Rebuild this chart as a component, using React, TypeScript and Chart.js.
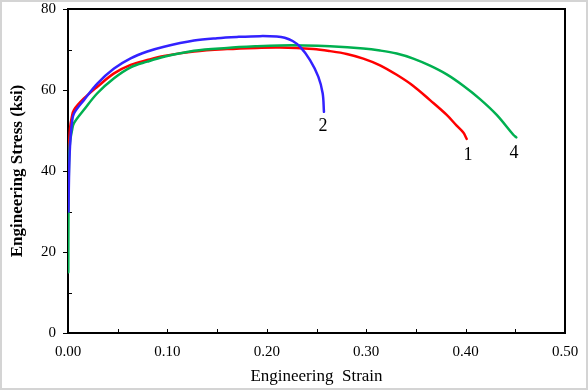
import { useEffect, useRef } from "react";
import { Chart, registerables } from "chart.js";

Chart.register(...registerables);

// Specimen 1 (red)
const strain1 = [0.0005, 0.001, 0.002, 0.004, 0.006, 0.016, 0.0295, 0.0463, 0.063, 0.0798, 0.0966, 0.1268, 0.16, 0.19, 0.213, 0.2468, 0.2636, 0.2804, 0.2971, 0.3139, 0.3307, 0.3474, 0.3642, 0.381, 0.391, 0.3977, 0.4011];
const stress1 = [40, 46, 50.5, 53.5, 55.1, 57.9, 60.8, 64.1, 66.2, 67.4, 68.4, 69.5, 70.1, 70.4, 70.5, 70.1, 69.6, 68.9, 67.75, 66.1, 63.75, 61.0, 57.5, 53.85, 51.2, 49.5, 47.9];

// Specimen 2 (blue)
const strain2 = [0.0005, 0.001, 0.002, 0.004, 0.006, 0.016, 0.0295, 0.0463, 0.063, 0.0798, 0.0966, 0.1268, 0.15, 0.17, 0.193, 0.21, 0.218, 0.226, 0.2334, 0.2435, 0.2518, 0.2562, 0.2575];
const stress2 = [30, 38.5, 46, 52, 54.2, 57.5, 61.6, 65.3, 67.8, 69.5, 70.7, 72.2, 72.8, 73.1, 73.3, 73.2, 72.9, 72.1, 70.7, 67.4, 63.3, 59.2, 54.6];

// Specimen 4 (green)
const strain4 = [0.0003, 0.0005, 0.001, 0.002, 0.004, 0.006, 0.016, 0.0295, 0.0463, 0.063, 0.0798, 0.0966, 0.1268, 0.16, 0.19, 0.213, 0.2376, 0.2636, 0.2971, 0.3139, 0.3307, 0.3474, 0.3642, 0.381, 0.3977, 0.4145, 0.4313, 0.448, 0.451];
const stress4 = [15, 30, 42, 47, 50, 51.8, 55.1, 59.2, 62.9, 65.6, 67.0, 68.2, 69.7, 70.4, 70.8, 71.0, 71.0, 70.8, 70.25, 69.75, 69.0, 67.75, 66.0, 63.85, 61.05, 57.75, 53.85, 48.95, 48.3];

// Curve labels
const labelTexts = ["1", "2", "4"];
const labelStrain = [0.4024, 0.2565, 0.4487];
const labelStress = [43.9, 51.1, 44.4];

const xTickValues = [0, 0.1, 0.2, 0.3, 0.4, 0.5];
const yTickValues = [0, 20, 40, 60, 80];
const xMinorValues = [0.05, 0.15, 0.25, 0.35, 0.45];
const yMinorValues = [10, 30, 50, 70];

const toPoints = (xs: number[], ys: number[]) => xs.map((x, i) => ({ x, y: ys[i] }));

export default function App() {
  const ref = useRef<HTMLCanvasElement>(null);

  useEffect(() => {
    if (!ref.current) return;
    const serif = "'Liberation Serif', 'Times New Roman', serif";

    const decor = {
      id: "decor",
      beforeDraw(chart: any) {
        const ctx = chart.ctx;
        ctx.save();
        ctx.fillStyle = "#ffffff";
        ctx.fillRect(0, 0, chart.width, chart.height);
        ctx.strokeStyle = "#d4d4d4";
        ctx.lineWidth = 2;
        ctx.strokeRect(1, 1, chart.width - 2, chart.height - 2);
        ctx.restore();
      },
      beforeDatasetsDraw(chart: any) {
        const ctx = chart.ctx;
        const { left, right, top, bottom } = chart.chartArea;
        const xs = chart.scales.x;
        const ys = chart.scales.y;
        ctx.save();
        ctx.strokeStyle = "#000";
        ctx.lineWidth = 2;
        ctx.strokeRect(left, top, right - left, bottom - top);
        ctx.lineWidth = 1;
        ctx.beginPath();
        for (const v of yTickValues) {
          const py = Math.round(ys.getPixelForValue(v)) + 0.5;
          ctx.moveTo(left - 5, py);
          ctx.lineTo(left, py);
        }
        for (const v of yMinorValues) {
          const py = Math.round(ys.getPixelForValue(v)) + 0.5;
          ctx.moveTo(left, py);
          ctx.lineTo(left + 4, py);
        }
        for (const v of [...xTickValues, ...xMinorValues]) {
          const px = Math.round(xs.getPixelForValue(v)) + 0.5;
          ctx.moveTo(px, bottom);
          ctx.lineTo(px, bottom - 4);
        }
        ctx.stroke();
        ctx.restore();
      },
      afterDraw(chart: any) {
        const ctx = chart.ctx;
        const xs = chart.scales.x;
        const ys = chart.scales.y;
        ctx.save();
        ctx.fillStyle = "#000";
        ctx.font = `18px ${serif}`;
        ctx.textAlign = "center";
        ctx.textBaseline = "middle";
        labelTexts.forEach((t, i) => {
          ctx.fillText(t, xs.getPixelForValue(labelStrain[i]), ys.getPixelForValue(labelStress[i]));
        });
        ctx.restore();
      },
    };

    const common = { showLine: true, pointRadius: 0, borderWidth: 2.5, fill: false, tension: 0.35, borderJoinStyle: "round" as const, borderCapStyle: "round" as const };

    const chart = new Chart(ref.current, {
      type: "scatter",
      data: {
        datasets: [
          { ...common, label: "2", data: toPoints(strain2, stress2), borderColor: "#3322ff" },
          { ...common, label: "4", data: toPoints(strain4, stress4), borderColor: "#00b050" },
          { ...common, label: "1", data: toPoints(strain1, stress1), borderColor: "#ff0000" },
        ],
      },
      options: {
        animation: false,
        responsive: false,
        devicePixelRatio: 1,
        layout: { padding: { top: 9, right: 23, bottom: 0, left: 0 } },
        plugins: { legend: { display: false }, tooltip: { enabled: false } },
        scales: {
          x: {
            type: "linear",
            min: 0,
            max: 0.5,
            afterBuildTicks: (s: any) => { s.ticks = xTickValues.map((v) => ({ value: v })); },
            afterFit: (s: any) => { s.height = 57; s.paddingLeft = 0; s.paddingRight = 0; },
            grid: { display: false, drawTicks: false },
            border: { display: false },
            ticks: {
              padding: 10,
              color: "#000",
              font: { family: serif, size: 15 },
              callback: (v: any) => Number(v).toFixed(2),
            },
            title: {
              display: true,
              text: "Engineering  Strain",
              color: "#000",
              font: { family: serif, size: 17 },
              padding: { top: 0, bottom: 3 },
            },
          },
          y: {
            type: "linear",
            min: 0,
            max: 80,
            afterBuildTicks: (s: any) => { s.ticks = yTickValues.map((v) => ({ value: v })); },
            afterFit: (s: any) => { s.width = 68; s.paddingTop = 0; s.paddingBottom = 0; },
            grid: { display: false, drawTicks: false },
            border: { display: false },
            ticks: {
              padding: 12,
              color: "#000",
              font: { family: serif, size: 15 },
              callback: (v: any) => String(v),
            },
            title: {
              display: true,
              text: "Engineering Stress (ksi)",
              color: "#000",
              font: { family: serif, size: 17, weight: "bold" },
              padding: { top: 7, bottom: 0 },
            },
          },
        },
      },
      plugins: [decor],
    });
    return () => chart.destroy();
  }, []);

  return (
    <div style={{ position: "fixed", left: 0, top: 0, width: 588, height: 390, background: "#fff" }}>
      <canvas ref={ref} width={588} height={390} style={{ display: "block", width: 588, height: 390 }} />
    </div>
  );
}
